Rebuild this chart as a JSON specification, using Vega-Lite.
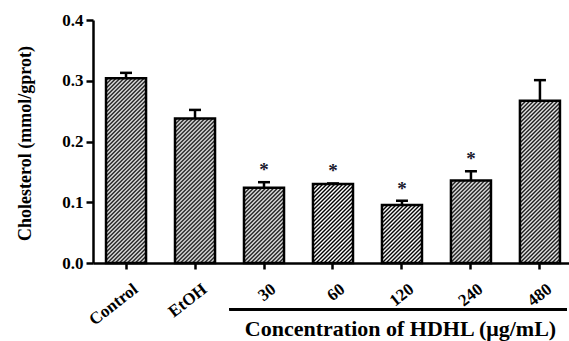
{
  "$schema": "https://vega.github.io/schema/vega-lite/v6.json",
  "width": 476,
  "height": 243,
  "autosize": {"type": "none"},
  "padding": {"left": 93, "top": 20, "right": 0, "bottom": 78},
  "background": "white",
  "params": [
    {"name": "hs", "expr": "[{offset:0/120,color:'#fff'},{offset:1/120,color:'#000'},{offset:2/120,color:'#fff'},{offset:3/120,color:'#000'},{offset:4/120,color:'#fff'},{offset:5/120,color:'#000'},{offset:6/120,color:'#fff'},{offset:7/120,color:'#000'},{offset:8/120,color:'#fff'},{offset:9/120,color:'#000'},{offset:10/120,color:'#fff'},{offset:11/120,color:'#000'},{offset:12/120,color:'#fff'},{offset:13/120,color:'#000'},{offset:14/120,color:'#fff'},{offset:15/120,color:'#000'},{offset:16/120,color:'#fff'},{offset:17/120,color:'#000'},{offset:18/120,color:'#fff'},{offset:19/120,color:'#000'},{offset:20/120,color:'#fff'},{offset:21/120,color:'#000'},{offset:22/120,color:'#fff'},{offset:23/120,color:'#000'},{offset:24/120,color:'#fff'},{offset:25/120,color:'#000'},{offset:26/120,color:'#fff'},{offset:27/120,color:'#000'},{offset:28/120,color:'#fff'},{offset:29/120,color:'#000'},{offset:30/120,color:'#fff'},{offset:31/120,color:'#000'},{offset:32/120,color:'#fff'},{offset:33/120,color:'#000'},{offset:34/120,color:'#fff'},{offset:35/120,color:'#000'},{offset:36/120,color:'#fff'},{offset:37/120,color:'#000'},{offset:38/120,color:'#fff'},{offset:39/120,color:'#000'},{offset:40/120,color:'#fff'},{offset:41/120,color:'#000'},{offset:42/120,color:'#fff'},{offset:43/120,color:'#000'},{offset:44/120,color:'#fff'},{offset:45/120,color:'#000'},{offset:46/120,color:'#fff'},{offset:47/120,color:'#000'},{offset:48/120,color:'#fff'},{offset:49/120,color:'#000'},{offset:50/120,color:'#fff'},{offset:51/120,color:'#000'},{offset:52/120,color:'#fff'},{offset:53/120,color:'#000'},{offset:54/120,color:'#fff'},{offset:55/120,color:'#000'},{offset:56/120,color:'#fff'},{offset:57/120,color:'#000'},{offset:58/120,color:'#fff'},{offset:59/120,color:'#000'},{offset:60/120,color:'#fff'},{offset:61/120,color:'#000'},{offset:62/120,color:'#fff'},{offset:63/120,color:'#000'},{offset:64/120,color:'#fff'},{offset:65/120,color:'#000'},{offset:66/120,color:'#fff'},{offset:67/120,color:'#000'},{offset:68/120,color:'#fff'},{offset:69/120,color:'#000'},{offset:70/120,color:'#fff'},{offset:71/120,color:'#000'},{offset:72/120,color:'#fff'},{offset:73/120,color:'#000'},{offset:74/120,color:'#fff'},{offset:75/120,color:'#000'},{offset:76/120,color:'#fff'},{offset:77/120,color:'#000'},{offset:78/120,color:'#fff'},{offset:79/120,color:'#000'},{offset:80/120,color:'#fff'},{offset:81/120,color:'#000'},{offset:82/120,color:'#fff'},{offset:83/120,color:'#000'},{offset:84/120,color:'#fff'},{offset:85/120,color:'#000'},{offset:86/120,color:'#fff'},{offset:87/120,color:'#000'},{offset:88/120,color:'#fff'},{offset:89/120,color:'#000'},{offset:90/120,color:'#fff'},{offset:91/120,color:'#000'},{offset:92/120,color:'#fff'},{offset:93/120,color:'#000'},{offset:94/120,color:'#fff'},{offset:95/120,color:'#000'},{offset:96/120,color:'#fff'},{offset:97/120,color:'#000'},{offset:98/120,color:'#fff'},{offset:99/120,color:'#000'},{offset:100/120,color:'#fff'},{offset:101/120,color:'#000'},{offset:102/120,color:'#fff'},{offset:103/120,color:'#000'},{offset:104/120,color:'#fff'},{offset:105/120,color:'#000'},{offset:106/120,color:'#fff'},{offset:107/120,color:'#000'},{offset:108/120,color:'#fff'},{offset:109/120,color:'#000'},{offset:110/120,color:'#fff'},{offset:111/120,color:'#000'},{offset:112/120,color:'#fff'},{offset:113/120,color:'#000'},{offset:114/120,color:'#fff'},{offset:115/120,color:'#000'},{offset:116/120,color:'#fff'},{offset:117/120,color:'#000'},{offset:118/120,color:'#fff'},{offset:119/120,color:'#000'},{offset:120/120,color:'#fff'}]"}
  ],
  "data": {
    "values": [
      {"group": "Control", "mean": 0.304, "upper": 0.313, "sig": ""},
      {"group": "EtOH", "mean": 0.238, "upper": 0.252, "sig": ""},
      {"group": "30", "mean": 0.124, "upper": 0.133, "sig": "*"},
      {"group": "60", "mean": 0.130, "upper": 0.131, "sig": "*"},
      {"group": "120", "mean": 0.0955, "upper": 0.1025, "sig": "*"},
      {"group": "240", "mean": 0.136, "upper": 0.151, "sig": "*"},
      {"group": "480", "mean": 0.267, "upper": 0.301, "sig": ""}
    ]
  },
  "layer": [
    {
      "mark": {
        "type": "bar",
        "stroke": "black",
        "strokeWidth": 2.5,
        "fill": {"expr": "{gradient:'linear',x1:0,y1:0,x2:240*bandwidth('x')/(pow(bandwidth('x'),2)+pow(scale('y',0)-scale('y',datum.mean),2)),y2:240*(scale('y',0)-scale('y',datum.mean))/(pow(bandwidth('x'),2)+pow(scale('y',0)-scale('y',datum.mean),2)),stops:hs}"}
      },
      "encoding": {
        "x": {
          "field": "group",
          "type": "nominal",
          "sort": null,
          "scale": {"paddingInner": 0.42, "paddingOuter": 0.16, "align": 0.59},
          "axis": {
            "title": "Concentration of HDHL (μg/mL)",
            "titleFont": "Liberation Serif",
            "titleFontSize": 22,
            "titleX": 307,
            "titleY": 72,
            "titleAlign": "center",
            "titleBaseline": "alphabetic",
            "labels": false,
            "tickSize": 6
          }
        },
        "y": {
          "field": "mean",
          "type": "quantitative",
          "scale": {"domain": [0, 0.4]},
          "axis": {
            "title": "Cholesterol (mmol/gprot)",
            "titleFont": "Liberation Serif",
            "titleFontSize": 18,
            "titleX": -68,
            "titleY": 123,
            "titleAngle": -90,
            "titleAlign": "center",
            "titleBaseline": "middle",
            "labelFont": "Liberation Serif",
            "values": [0, 0.1, 0.2, 0.3, 0.4],
            "format": ".1f",
            "labelFontSize": 17,
            "labelPadding": 3,
            "tickSize": 7
          }
        }
      }
    },
    {
      "mark": {"type": "rule", "stroke": "black", "strokeWidth": 2.5},
      "encoding": {
        "x": {"field": "group", "type": "nominal", "sort": null},
        "y": {"field": "mean", "type": "quantitative"},
        "y2": {"field": "upper"}
      }
    },
    {
      "mark": {"type": "tick", "orient": "horizontal", "size": 12, "thickness": 2.5, "color": "black", "opacity": 1},
      "encoding": {
        "x": {"field": "group", "type": "nominal", "sort": null},
        "y": {"field": "upper", "type": "quantitative"}
      }
    },
    {
      "transform": [{"filter": "datum.sig == '*'"}],
      "mark": {"type": "text", "font": "Liberation Serif", "fontSize": 19, "fontWeight": "bold", "baseline": "alphabetic", "dy": -6, "color": "#1a1a2e"},
      "encoding": {
        "x": {"field": "group", "type": "nominal", "sort": null},
        "y": {"field": "upper", "type": "quantitative"},
        "text": {"field": "sig"}
      }
    },
    {
      "mark": {"type": "text", "font": "Liberation Serif", "fontSize": 17, "fontWeight": "bold", "color": "black", "angle": 322, "align": "right", "baseline": "top", "xOffset": 5, "yOffset": 18},
      "encoding": {
        "x": {"field": "group", "type": "nominal", "sort": null},
        "y": {"datum": 0, "type": "quantitative"},
        "text": {"field": "group"}
      }
    },
    {
      "mark": {"type": "rule", "stroke": "black", "strokeWidth": 2.5, "xOffset": -34.5, "x2Offset": 27},
      "encoding": {
        "x": {"datum": "30", "type": "nominal"},
        "x2": {"datum": "480"},
        "y": {"datum": -0.076, "type": "quantitative"}
      }
    }
  ],
  "config": {
    "font": "Liberation Serif",
    "view": {"stroke": null},
    "axis": {
      "grid": false,
      "domainColor": "black",
      "domainWidth": 2.5,
      "tickColor": "black",
      "tickWidth": 2.5,
      "labelFont": "Liberation Serif",
      "labelFontWeight": "bold",
      "labelColor": "black",
      "titleFont": "Liberation Serif",
      "titleFontWeight": "bold",
      "titleColor": "black"
    }
  }
}
